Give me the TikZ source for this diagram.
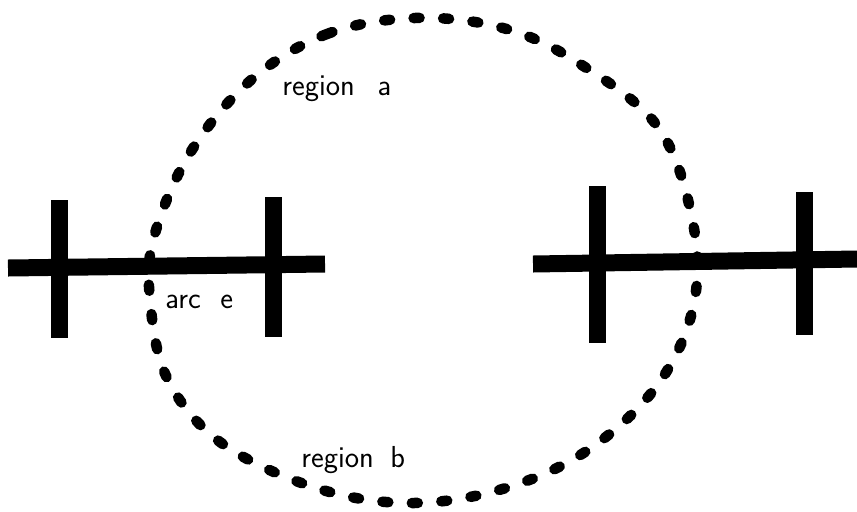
\documentclass[tikz,border=0pt]{standalone}
\usepackage{tikz}
\usetikzlibrary{calc}

\begin{document}
\begin{tikzpicture}[x=0.02cm,y=-0.02cm]
\def\wbar{17}
\def\wdot{10.5}
\tikzset{
    bar/.style={line width=\wbar*0.02cm},
    dotline/.style={line width=\wdot*0.02cm,line cap=round,
        dash pattern=on 3.4pt off 13.4pt},
    lbl/.style={anchor=base west,inner sep=0pt,font=\sffamily\LARGE}
}
\useasboundingbox (0,0) rectangle (857,511);

% the dotted loop
\draw[dotline] plot[smooth cycle,tension=.6] coordinates {
    (415,18) (327,34) (251,80) (190,153) (154,237) (150,299)
    (167,378) (220,442) (313,487) (406,503) (499,490) (585,452)
    (656,387) (693,308) (693,223) (658,127) (577,62) (503,28)};

% left bar
\coordinate (L1) at (8,268);
\coordinate (L2) at (325,264);
\draw[bar] (L1) -- (L2);
\foreach \x/\ya/\yb in {59/200/338,273/197/337}{
    \draw[bar] (\x,\ya) -- (\x,\yb);
}

% right bar
\coordinate (R1) at (533,264);
\coordinate (R2) at (857,259);
\draw[bar] (R1) -- (R2);
\foreach \x/\ya/\yb in {597/186/343,804/192/335}{
    \draw[bar] (\x,\ya) -- (\x,\yb);
}

\node[lbl] (rega) at (282,95) {region\hspace{.75em}a};
\node[lbl] (regb) at (301,467) {region\hspace{.55em}b};
\node[lbl] (arce) at (165,308) {arc\hspace{.65em}e};
\end{tikzpicture}
\end{document}
